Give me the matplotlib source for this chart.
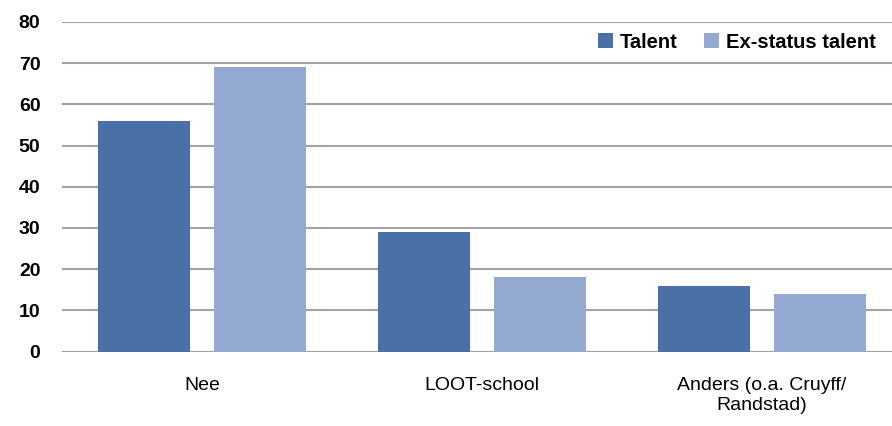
import matplotlib
matplotlib.use("Agg")
import matplotlib.pyplot as plt
import numpy as np

categories = ["Nee", "LOOT-school", "Anders (o.a. Cruyff/\nRandstad)"]
series_names = ["Talent", "Ex-status talent"]
talent = [56, 29, 16]
ex_status = [69, 18, 14]
y_ticks = [0, 10, 20, 30, 40, 50, 60, 70, 80]

colors = ["#4A71A7", "#93A9CF"]
grid_color = "#A3A3A3"

fig = plt.figure(figsize=(8.92, 4.26), dpi=100)
W, H = 892, 426
left, right, top, bottom = 62, 902, 22, 351.5
ax = fig.add_axes([left / W, 1 - bottom / H, (right - left) / W, (bottom - top) / H])

x = np.arange(len(categories))
bw = 0.329
off = 0.208
ax.bar(x - off, talent, bw, color=colors[0], label=series_names[0], zorder=3)
ax.bar(x + off, ex_status, bw, color=colors[1], label=series_names[1], zorder=3)

ax.set_xlim(-0.5, len(categories) - 0.5)
ax.set_ylim(0, 80)
for t in y_ticks:
    ax.axhline(t, color=grid_color, lw=1.5, zorder=1)
for s in ax.spines.values():
    s.set_visible(False)

ax.tick_params(axis="y", length=0, pad=15.5)
ax.tick_params(axis="x", length=0, pad=18)
ax.set_yticks(y_ticks)
ax.set_yticklabels([str(v) for v in y_ticks], fontsize=14, fontweight="bold",
                   family=["Liberation Sans", "DejaVu Sans"])
ax.set_xticks(x)
ax.set_xticklabels(categories, fontsize=14, family=["Liberation Sans", "DejaVu Sans"],
                   linespacing=1.25)

leg = ax.legend(loc="center right", bbox_to_anchor=(890 / W, 1 - 42 / H),
                bbox_transform=fig.transFigure, ncol=2, frameon=True,
                facecolor="white", edgecolor="none", framealpha=1,
                handlelength=0.75, handleheight=0.75, handletextpad=0.35,
                columnspacing=1.3, borderpad=0.2,
                prop={"size": 14.5, "weight": "bold", "family": ["Liberation Sans"]})
leg.set_zorder(5)

fig.savefig("out.png", dpi=100)
